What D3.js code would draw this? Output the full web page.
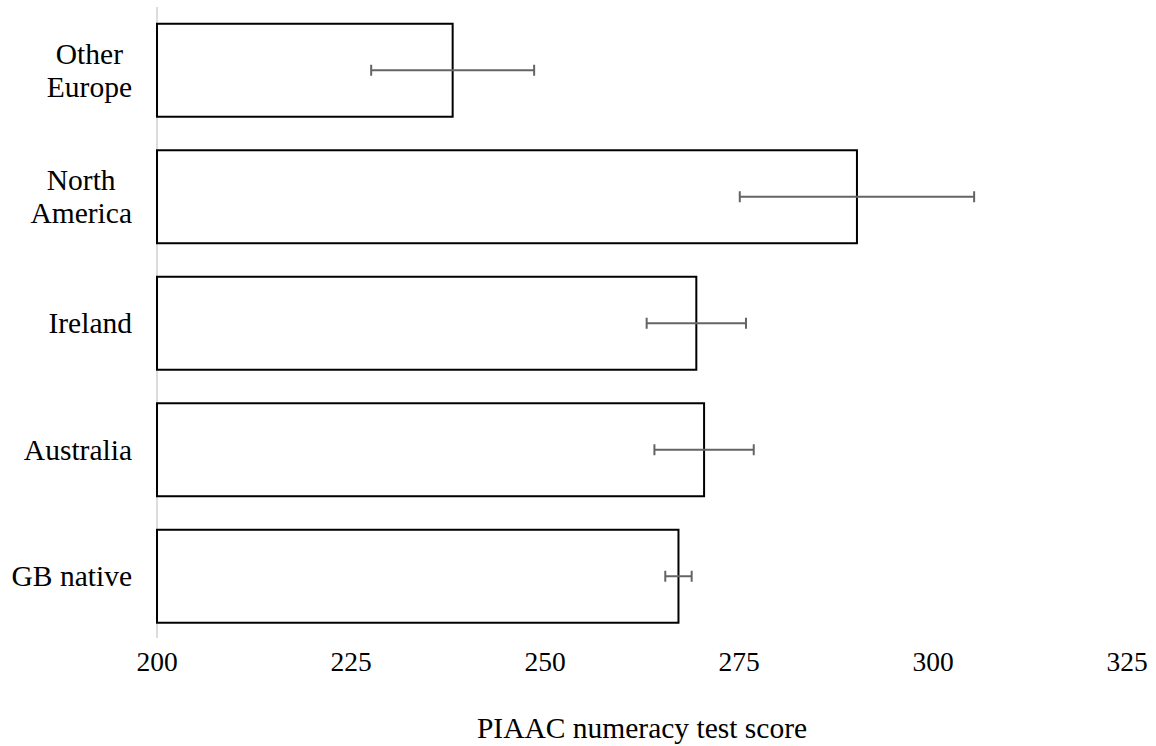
<!DOCTYPE html>
<html>
<head>
<meta charset="utf-8">
<script src="https://cdn.jsdelivr.net/npm/d3@7"></script>
<style>
  html, body { margin: 0; padding: 0; background: #fff; }
  svg text { font-family: "Liberation Serif", "Times New Roman", serif; fill: #000; }
</style>
</head>
<body>
<svg id="chart" width="1156" height="746"></svg>
<script>
// Data (top to bottom)
const categories = ["Other\nEurope", "North\nAmerica", "Ireland", "Australia", "GB native"];
const scores = [238.1, 290.2, 269.5, 270.5, 267.2];
const errors = [10.5, 15.1, 6.4, 6.4, 1.7];
const xTicks = [200, 225, 250, 275, 300, 325];
const xTitle = "PIAAC numeracy test score";

const svg = d3.select("#chart");
const labelSize = 29.5;
const tickSize = 27.5;

const x = d3.scaleLinear().domain([200, 325]).range([157, 1127]);
const y = d3.scaleBand().domain(categories).range([7, 639.5])
  .paddingInner(0.265).paddingOuter(0.1325);

// vertical axis line
svg.append("line")
  .attr("x1", x(200)).attr("x2", x(200))
  .attr("y1", 7).attr("y2", 638)
  .attr("stroke", "#d0d0d0").attr("stroke-width", 1.5);

// bars
svg.selectAll("rect.bar").data(categories).join("rect")
  .attr("class", "bar")
  .attr("x", x(200))
  .attr("y", d => y(d))
  .attr("width", (d, i) => x(scores[i]) - x(200))
  .attr("height", y.bandwidth())
  .attr("fill", "#fff")
  .attr("stroke", "#000")
  .attr("stroke-width", 2);

// error bars
const eg = svg.append("g");
categories.forEach((c, i) => {
  const cy = y(c) + y.bandwidth() / 2;
  const x0 = x(scores[i] - errors[i]), x1 = x(scores[i] + errors[i]);
  eg.append("line").attr("x1", x0).attr("x2", x1).attr("y1", cy).attr("y2", cy)
    .attr("stroke", "#646464").attr("stroke-width", 2);
  [x0, x1].forEach(xx => {
    eg.append("line").attr("x1", xx).attr("x2", xx).attr("y1", cy - 5.5).attr("y2", cy + 5.5)
      .attr("stroke", "#646464").attr("stroke-width", 2);
  });
});

// category labels
const labelRight = 132;
categories.forEach(c => {
  const lines = c.split("\n");
  const cy = y(c) + y.bandwidth() / 2;
  const g = svg.append("g");
  const texts = lines.map((ln, k) => g.append("text")
    .attr("font-size", labelSize)
    .attr("dominant-baseline", "central")
    .attr("y", cy + (k - (lines.length - 1) / 2) * 33)
    .text(ln));
  const maxW = d3.max(texts, t => t.node().getComputedTextLength());
  const cx = labelRight - maxW / 2;
  texts.forEach(t => t.attr("x", cx).attr("text-anchor", "middle"));
});

// x tick labels
svg.selectAll("text.tick").data(xTicks).join("text")
  .attr("class", "tick")
  .attr("x", d => x(d))
  .attr("y", 671)
  .attr("text-anchor", "middle")
  .attr("font-size", tickSize)
  .text(d => d);

// x title
svg.append("text")
  .attr("x", (x(200) + x(325)) / 2)
  .attr("y", 738)
  .attr("text-anchor", "middle")
  .attr("font-size", labelSize)
  .text(xTitle);
</script>
</body>
</html>
